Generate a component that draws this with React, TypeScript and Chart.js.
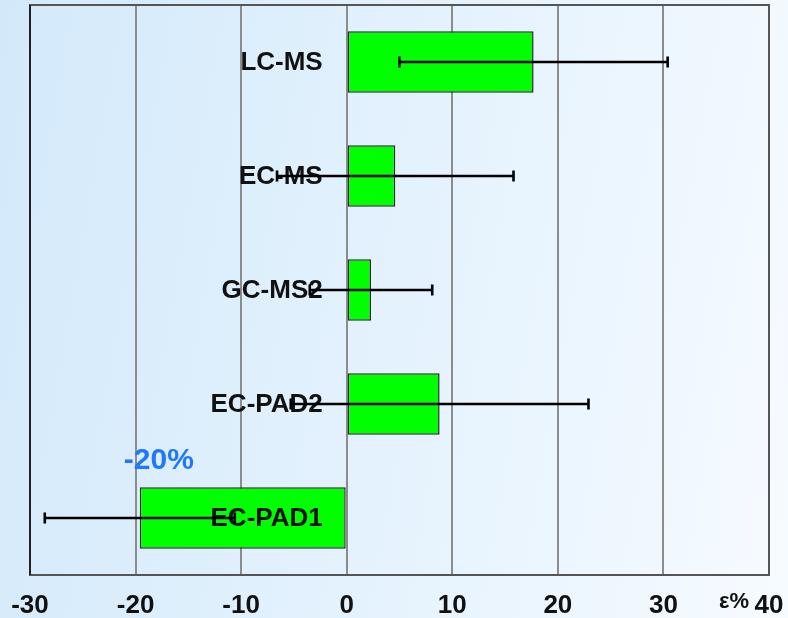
import React, { useEffect, useRef } from "react";
import { Chart, registerables } from "chart.js";

Chart.register(...registerables);

const categories = ["LC-MS", "EC-MS", "GC-MS2", "EC-PAD2", "EC-PAD1"];
const values = [17.7, 4.6, 2.3, 8.8, -19.6];
const errors = [12.7, 11.2, 5.8, 14.1, 9.0];
const xTicks = [-30, -20, -10, 0, 10, 20, 30, 40];
const annotationText = "-20%";
const annotationValue = -17.8;
const unitLabel = "ε%";

const FONT = "'Liberation Sans', Arial, sans-serif";

const overlayPlugin = {
  id: "overlay",
  afterDatasetsDraw(chart: any) {
    const ctx = chart.ctx;
    const xs = chart.scales.x;
    const ys = chart.scales.y;
    const area = chart.chartArea;
    ctx.save();
    // frame
    ctx.strokeStyle = "#555555";
    ctx.lineWidth = 2;
    ctx.strokeRect(area.left, area.top, area.right - area.left, area.bottom - area.top);
    ctx.strokeStyle = "#222222";
    ctx.beginPath();
    ctx.moveTo(area.left, area.top);
    ctx.lineTo(area.left, area.bottom);
    ctx.stroke();

    // category labels
    ctx.font = `bold 26px ${FONT}`;
    ctx.fillStyle = "#111111";
    ctx.textAlign = "right";
    ctx.textBaseline = "middle";
    const x0 = xs.getPixelForValue(0);
    categories.forEach((c, i) => {
      const y = ys.getPixelForValue(i);
      ctx.fillText(c, x0 - 24, y + 1);
    });

    // error bars
    ctx.strokeStyle = "#000000";
    ctx.lineWidth = 2.6;
    values.forEach((v, i) => {
      const y = ys.getPixelForValue(i);
      const a = xs.getPixelForValue(v - errors[i]);
      const b = xs.getPixelForValue(v + errors[i]);
      ctx.beginPath();
      ctx.moveTo(a, y);
      ctx.lineTo(b, y);
      ctx.moveTo(a, y - 5.5);
      ctx.lineTo(a, y + 5.5);
      ctx.moveTo(b, y - 5.5);
      ctx.lineTo(b, y + 5.5);
      ctx.stroke();
    });

    // annotation
    const last = values.length - 1;
    const meta = chart.getDatasetMeta(0);
    const barEl = meta.data[last];
    const topY = barEl.y - barEl.height / 2;
    ctx.font = `bold 30px ${FONT}`;
    ctx.fillStyle = "#1e78ff";
    ctx.textAlign = "center";
    ctx.textBaseline = "middle";
    ctx.fillText(annotationText, xs.getPixelForValue(annotationValue), topY - 26);

    // unit label
    ctx.font = `bold 22px ${FONT}`;
    ctx.fillStyle = "#111111";
    ctx.fillText(unitLabel, xs.getPixelForValue(40) - 35, area.bottom + 27);
    ctx.restore();
  },
};

export default function App() {
  const ref = useRef<HTMLCanvasElement | null>(null);
  useEffect(() => {
    if (!ref.current) return;
    const chart = new Chart(ref.current, {
      type: "bar",
      data: {
        labels: categories,
        datasets: [
          {
            data: values,
            backgroundColor: "#00ff00",
            borderColor: "#2a2a2a",
            borderWidth: 1.5,
            borderSkipped: false,
            barPercentage: 0.54,
            categoryPercentage: 1,
          },
        ],
      },
      options: {
        indexAxis: "y",
        animation: false,
        responsive: false,
        maintainAspectRatio: false,
        layout: { padding: { left: 30, right: 19, top: 5, bottom: 0 } },
        plugins: { legend: { display: false }, tooltip: { enabled: false } },
        scales: {
          x: {
            type: "linear",
            min: -30,
            max: 40,
            afterBuildTicks: (axis: any) => {
              axis.ticks = xTicks.map((v) => ({ value: v }));
            },
            afterFit: (axis: any) => {
              axis.height = 43;
              axis.paddingLeft = 0;
              axis.paddingRight = 0;
            },
            ticks: {
              color: "#111111",
              font: { family: FONT, size: 26, weight: "bold" },
              padding: 15,
              maxRotation: 0,
            },
            grid: { color: "#8c8c8c", lineWidth: 2, drawTicks: false },
            border: { display: false },
          },
          y: {
            display: false,
            grid: { display: false },
          },
        },
      },
      plugins: [overlayPlugin],
    });
    return () => chart.destroy();
  }, []);
  return (
    <div
      style={{
        position: "fixed",
        left: 0,
        top: 0,
        width: 788,
        height: 618,
        background: "linear-gradient(100deg, #d3e9fa 0%, #e2f1fd 45%, #f6fbff 100%)",
      }}
    >
      <canvas ref={ref} width={788} height={618} style={{ display: "block" }} />
    </div>
  );
}
